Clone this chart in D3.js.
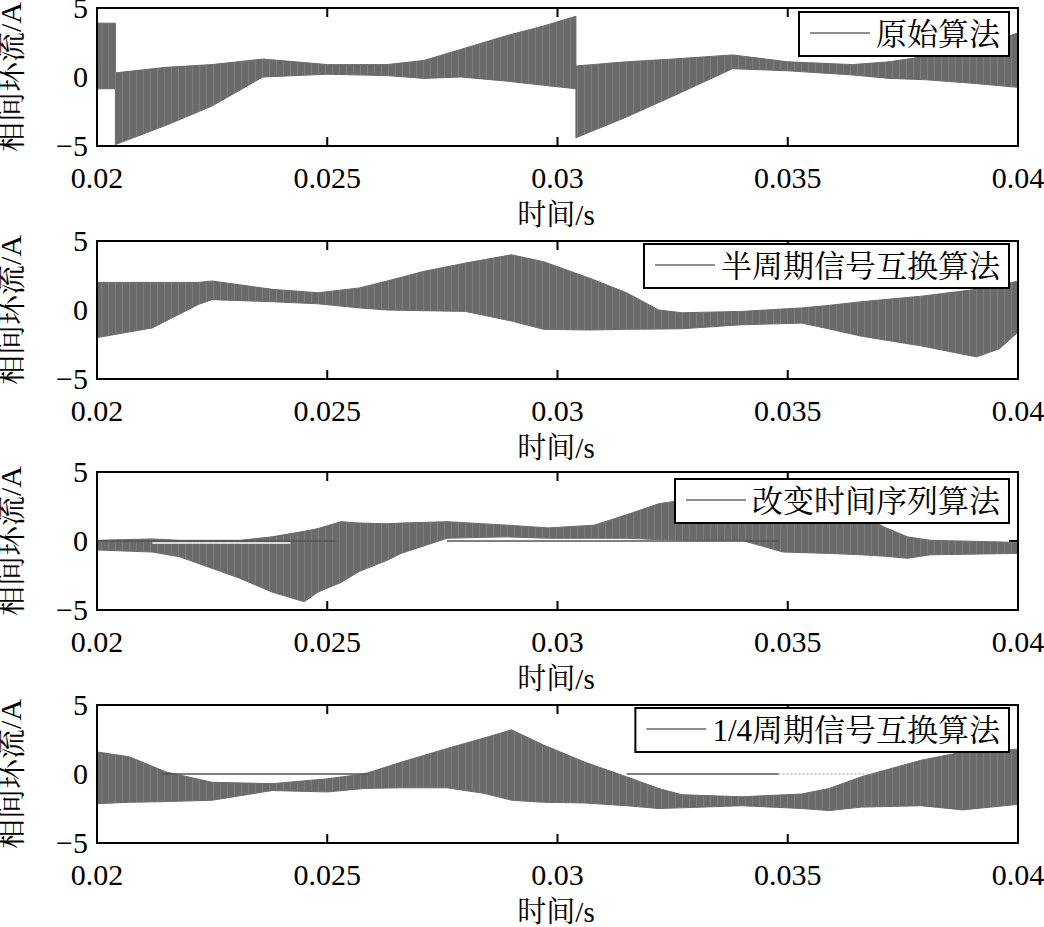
<!DOCTYPE html>
<html><head><meta charset="utf-8">
<script src="https://cdn.jsdelivr.net/npm/d3@7"></script>
<style>
svg text, svg tspan { font-family: "Liberation Serif", "Noto Serif CJK SC", serif; }
</style>
</head><body style="margin:0">
<svg id="c" width="1044" height="927"></svg>
<script>
// ---------- data ----------
const xTicks = [0.02, 0.025, 0.03, 0.035, 0.04];
const xTickLabels = ["0.02", "0.025", "0.03", "0.035", "0.04"];
const yTicks = [-5, 0, 5];
const yTickLabels = ["\u22125", "0", "5"];
const yTitle = "相间环流/A";
const xTitle = "时间/s";
const legendNames = ["原始算法", "半周期信号互换算法", "改变时间序列算法", "1/4周期信号互换算法"];

// envelope of the oscillating current (upper / lower)
const t1  = [0.02, 0.0204, 0.0204, 0.0215, 0.0225, 0.0236, 0.0250, 0.0263, 0.0271, 0.0279, 0.0289, 0.0297, 0.0304, 0.0304, 0.0315, 0.0325, 0.0338, 0.0350, 0.0364, 0.0372, 0.0380, 0.0390, 0.0400];
const up1 = [3.9, 3.9, 0.3, 0.7, 0.9, 1.3, 0.9, 0.9, 1.2, 2.0, 3.0, 3.7, 4.4, 0.8, 1.1, 1.3, 1.6, 1.1, 0.9, 1.1, 1.5, 2.0, 3.2];
const lo1 = [-0.85, -0.85, -4.9, -3.5, -2.1, 0.0, 0.2, 0.1, -0.1, 0.0, -0.3, -0.6, -0.85, -4.4, -2.9, -1.4, 0.6, 0.45, 0.15, -0.1, -0.2, -0.45, -0.75];

const t2  = [0.02, 0.0212, 0.0222, 0.0225, 0.0238, 0.0248, 0.0257, 0.0263, 0.0271, 0.0280, 0.0290, 0.0297, 0.0307, 0.0315, 0.0322, 0.0327, 0.0340, 0.0353, 0.0358, 0.0366, 0.0379, 0.0391, 0.0396, 0.0400];
const up2 = [2.0, 2.0, 2.0, 2.1, 1.5, 1.25, 1.6, 2.1, 2.8, 3.4, 4.0, 3.5, 2.3, 1.25, 0.0, -0.2, -0.1, 0.15, 0.3, 0.6, 1.0, 1.5, 1.8, 2.1];
const lo2 = [-2.0, -1.3, 0.4, 0.75, 0.6, 0.45, 0.15, 0.0, -0.05, -0.1, -0.8, -1.4, -1.45, -1.4, -1.38, -1.36, -1.07, -0.95, -1.3, -1.9, -2.6, -3.4, -2.8, -1.6];

const t3  = [0.02, 0.0212, 0.0218, 0.0231, 0.0238, 0.0245, 0.0248, 0.0253, 0.0257, 0.0263, 0.0266, 0.0276, 0.0289, 0.0298, 0.0308, 0.0315, 0.0322, 0.0330, 0.0340, 0.0349, 0.0359, 0.0366, 0.0371, 0.0376, 0.0381, 0.0400];
const up3 = [0.05, 0.15, 0.05, 0.05, 0.3, 0.7, 0.9, 1.4, 1.3, 1.25, 1.3, 1.4, 1.15, 0.95, 1.15, 1.9, 2.7, 3.1, 3.2, 2.9, 2.4, 1.9, 1.0, 0.3, 0.05, -0.1];
const lo3 = [-0.65, -0.8, -1.15, -2.7, -3.7, -4.4, -3.7, -3.0, -2.2, -1.4, -0.9, 0.2, 0.3, 0.2, 0.2, 0.2, 0.1, 0.05, 0.05, -0.8, -0.9, -1.0, -1.1, -1.25, -1.0, -0.9];

const t4  = [0.02, 0.0207, 0.0215, 0.0225, 0.0238, 0.0250, 0.0258, 0.0266, 0.0276, 0.0284, 0.0290, 0.0297, 0.0306, 0.0315, 0.0322, 0.0327, 0.0340, 0.0353, 0.0359, 0.0366, 0.0379, 0.0388, 0.0400];
const up4 = [1.6, 1.25, 0.15, -0.6, -0.7, -0.35, 0.0, 0.85, 1.85, 2.6, 3.2, 2.1, 0.85, -0.2, -1.05, -1.5, -1.65, -1.45, -1.05, -0.2, 1.0, 1.6, 1.8];
const lo4 = [-2.15, -2.05, -2.0, -1.9, -1.2, -1.3, -1.05, -1.0, -1.0, -1.4, -1.9, -2.05, -2.1, -2.3, -2.5, -2.45, -2.3, -2.5, -2.65, -2.4, -2.3, -2.6, -2.2];

// thin flat traces sitting on the zero line
const zero3 = [[0.0200, 0.0252], [0.0276, 0.0348]];
const zero3gap = [[0.0212, 0.0242]];
const zero4 = [[0.0214, 0.0259], [0.0315, 0.0348]];
const zero4faint = [[0.0348, 0.0369]];

const panels = [
  {t: t1, up: up1, lo: lo1, zero: [], gap: [], faint: []},
  {t: t2, up: up2, lo: lo2, zero: [], gap: [], faint: []},
  {t: t3, up: up3, lo: lo3, zero: zero3, gap: zero3gap, faint: []},
  {t: t4, up: up4, lo: lo4, zero: zero4, gap: [], faint: zero4faint}
];

// ---------- layout ----------
const svg = d3.select("#c");
const left = 97, right = 1018, ph = 138;
const tops = [8, 241, 472, 705];
const legTop = [4, 3, 7, 3];
const sigColor = "#6a6a6a";
const latinFont = '"Liberation Serif", monospace';
const cjkFont = '"Noto Serif CJK SC", monospace';
const isCJK = /[\u4e00-\u9fff]/;

// write a string as runs: CJK in a Song-style serif, the rest in a Times-style serif
function richText(sel, str) {
  const runs = str.match(/[\u4e00-\u9fff]+|[^\u4e00-\u9fff]+/g);
  runs.forEach(r => {
    sel.append("tspan").style("font-family", isCJK.test(r) ? cjkFont : latinFont, "important").text(r);
  });
  return sel;
}
// approximate advance width (em) without forcing layout
function emWidth(str) {
  let w = 0;
  for (const ch of str) w += isCJK.test(ch) ? 1 : (ch === "/" ? 0.278 : 0.5);
  return w;
}

// subtle vertical texture resembling the dense oscillation
const defs = svg.append("defs");
const pat = defs.append("pattern").attr("id", "osc").attr("patternUnits", "userSpaceOnUse")
  .attr("width", 7).attr("height", 4);
pat.append("rect").attr("width", 7).attr("height", 4).attr("fill", sigColor);
pat.append("rect").attr("x", 3).attr("width", 0.8).attr("height", 4).attr("fill", "#828282");

const x = d3.scaleLinear().domain([0.02, 0.04]).range([left, right]);

panels.forEach((p, i) => {
  const top = tops[i];
  const y = d3.scaleLinear().domain([-5, 5]).range([top + ph, top]);
  const g = svg.append("g");

  // inner ticks (drawn under the data)
  const tickLen = 9;
  xTicks.slice(1, -1).forEach(v => {
    g.append("line").attr("x1", x(v)).attr("x2", x(v)).attr("y1", top).attr("y2", top + tickLen).attr("stroke", "#000").attr("stroke-width", 2);
    g.append("line").attr("x1", x(v)).attr("x2", x(v)).attr("y1", top + ph).attr("y2", top + ph - tickLen).attr("stroke", "#000").attr("stroke-width", 2);
  });
  g.append("line").attr("x1", left).attr("x2", left + tickLen).attr("y1", y(0)).attr("y2", y(0)).attr("stroke", "#000").attr("stroke-width", 2);
  g.append("line").attr("x1", right).attr("x2", right - tickLen).attr("y1", y(0)).attr("y2", y(0)).attr("stroke", "#000").attr("stroke-width", 2);

  // signal envelope
  const rows = p.t.map((t, k) => ({t, u: p.up[k], l: p.lo[k]}));
  const area = d3.area().x(d => x(d.t)).y0(d => y(d.l)).y1(d => y(d.u));
  g.append("path").datum(rows).attr("d", area).attr("fill", "url(#osc)").attr("stroke", sigColor).attr("stroke-width", 1);

  p.gap.forEach(s => {
    g.append("line").attr("x1", x(s[0])).attr("x2", x(s[1])).attr("y1", y(0) + 2).attr("y2", y(0) + 2)
      .attr("stroke", "#fff").attr("stroke-width", 1.3);
  });
  p.zero.forEach(s => {
    g.append("line").attr("x1", x(s[0])).attr("x2", x(s[1])).attr("y1", y(0)).attr("y2", y(0))
      .attr("stroke", "#555").attr("stroke-width", 1.4);
  });
  p.faint.forEach(s => {
    g.append("line").attr("x1", x(s[0])).attr("x2", x(s[1])).attr("y1", y(0)).attr("y2", y(0))
      .attr("stroke", "#999").attr("stroke-width", 1.2).attr("stroke-dasharray", "2,2");
  });

  // frame
  g.append("rect").attr("x", left).attr("y", top).attr("width", right - left).attr("height", ph)
    .attr("fill", "none").attr("stroke", "#000").attr("stroke-width", 2);

  // tick labels
  xTicks.forEach((v, k) => {
    g.append("text").attr("x", x(v)).attr("y", top + ph + 42).attr("text-anchor", "middle")
      .style("font-family", latinFont, "important").attr("font-size", 30).text(xTickLabels[k]);
  });
  yTicks.forEach((v, k) => {
    g.append("text").attr("x", 88).attr("y", y(v)).attr("dy", "0.33em").attr("text-anchor", "end")
      .style("font-family", latinFont, "important").attr("font-size", 30).text(yTickLabels[k]);
  });

  // axis titles
  richText(g.append("text").attr("x", 556).attr("y", top + ph + 79).attr("text-anchor", "middle")
    .attr("font-size", 29), xTitle);
  richText(g.append("text").attr("transform", `translate(21,${top + ph / 2}) rotate(-90)`).attr("text-anchor", "middle")
    .attr("font-size", 30), yTitle);

  // legend
  const fs = 31;
  const ly = top + legTop[i];
  const lh = 44;
  const lg = g.append("g");
  const tw = emWidth(legendNames[i]) * fs;
  const lineEnd = 1000 - tw - 6;
  lg.append("rect").attr("x", lineEnd - 71).attr("width", 1009 - (lineEnd - 71)).attr("y", ly).attr("height", lh)
    .attr("fill", "#fff").attr("stroke", "#000").attr("stroke-width", 2);
  lg.append("line").attr("x1", lineEnd - 60).attr("x2", lineEnd).attr("y1", ly + lh / 2 - 1).attr("y2", ly + lh / 2 - 1)
    .attr("stroke", sigColor).attr("stroke-width", 1.5);
  richText(lg.append("text").attr("x", 1000).attr("y", ly + lh / 2).attr("dy", "0.36em").attr("text-anchor", "end")
    .attr("font-size", fs), legendNames[i]);
});
</script>
</body></html>
